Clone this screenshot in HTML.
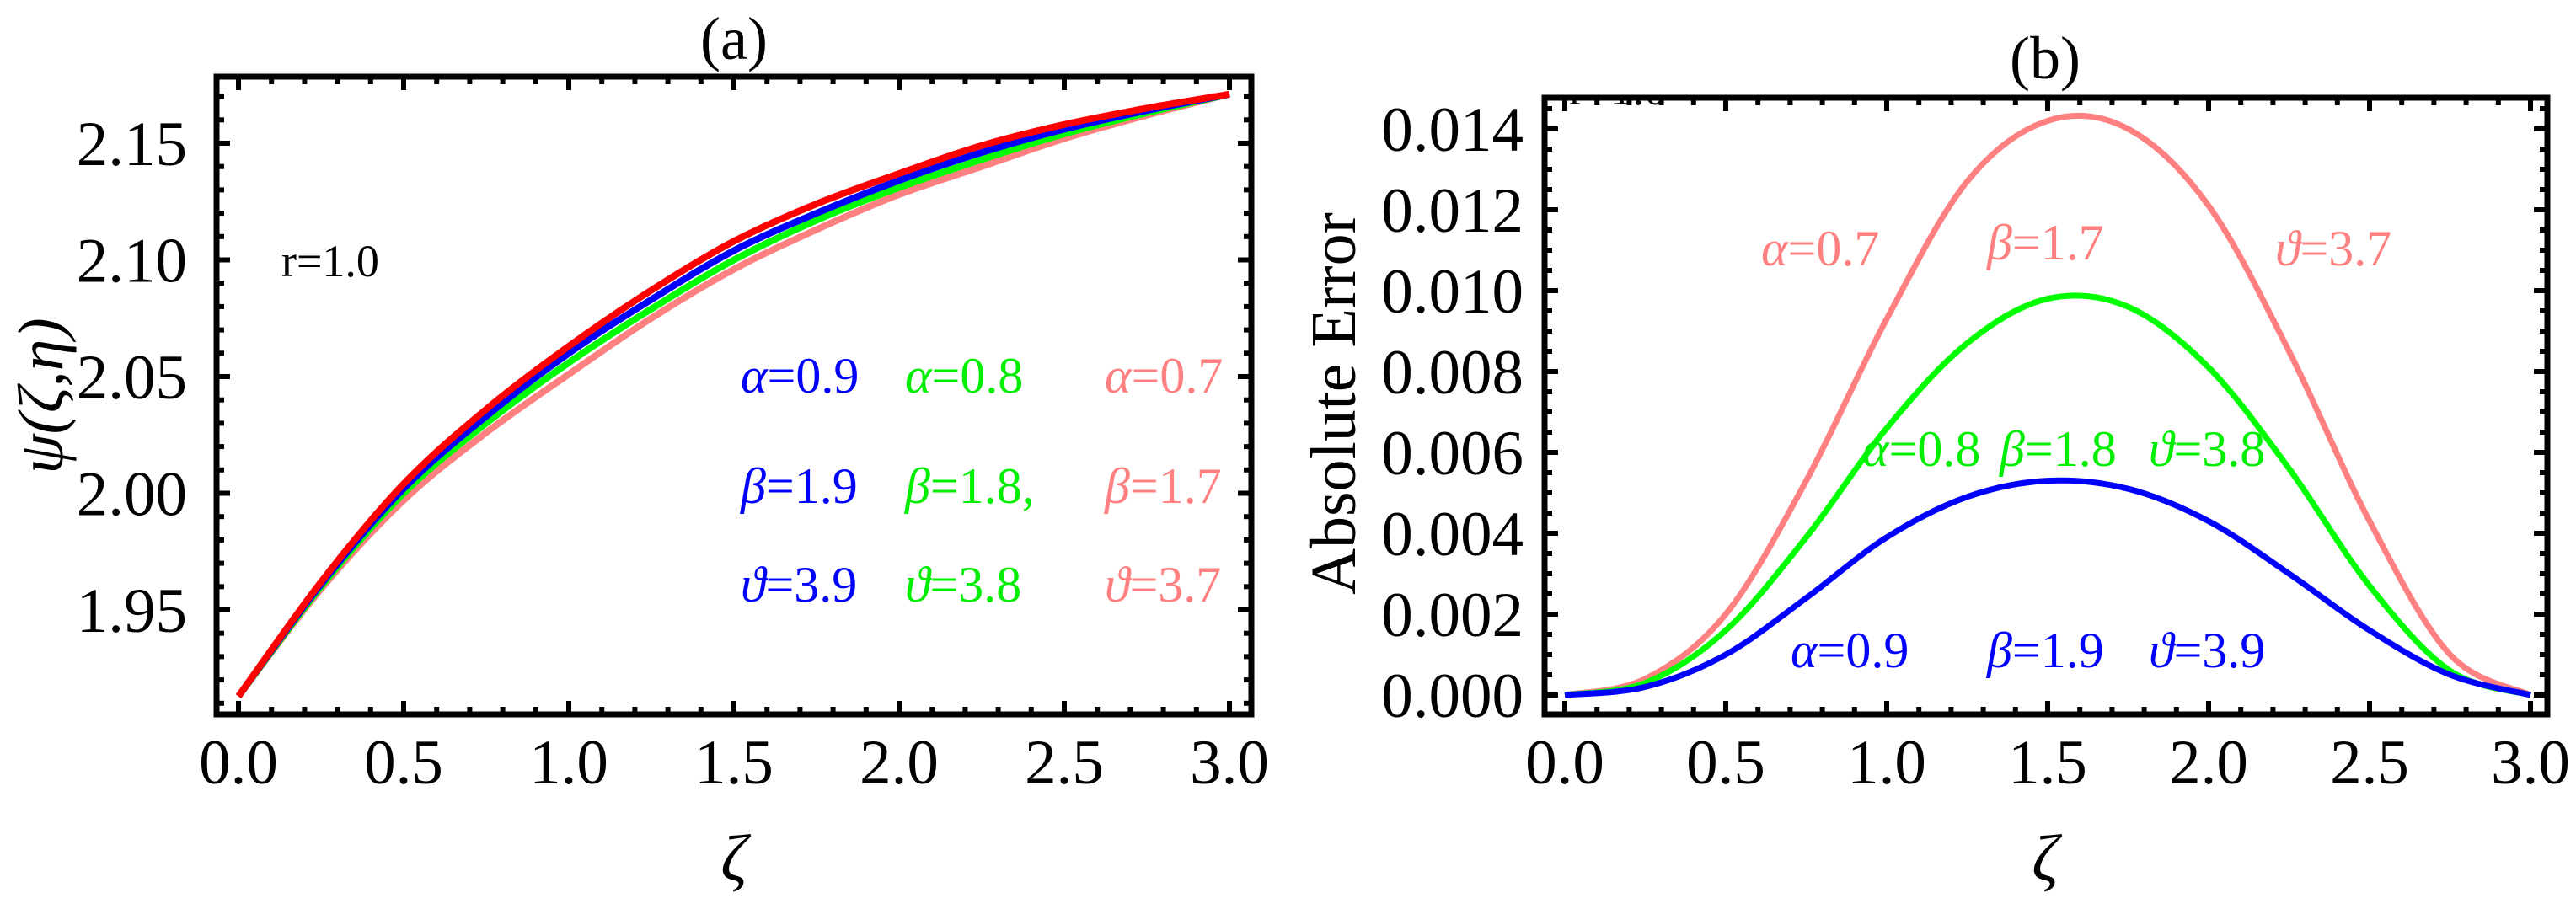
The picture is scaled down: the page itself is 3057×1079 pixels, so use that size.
<!DOCTYPE html>
<html><head><meta charset="utf-8"><style>
html,body{margin:0;padding:0;background:#fff;}
svg{display:block;font-family:"Liberation Serif","DejaVu Serif",serif;}
</style></head><body>
<svg id="fig" width="3057" height="1079" viewBox="0 0 3057 1079" xmlns="http://www.w3.org/2000/svg">
<defs>
<clipPath id="clipA"><rect x="257" y="88" width="1228" height="760"/></clipPath>
<clipPath id="clipB"><rect x="1833" y="116" width="1190" height="732"/></clipPath>
</defs>
<g id="panelA"></g>
<g id="panelB"></g>
</svg>
<script>
// ---- Data (panel a) ----
const xsA = [0,0.25,0.5,0.75,1.0,1.25,1.5,1.75,2.0,2.25,2.5,2.75,3.0];
const redA = [1.913,1.962,2.004,2.036,2.063,2.087,2.108,2.124,2.137,2.149,2.158,2.165,2.171];
const blueA = [1.913,1.961,2.002,2.033,2.060,2.083,2.104,2.120,2.134,2.146,2.156,2.164,2.171];
const greenA = [1.913,1.960,2.000,2.030,2.056,2.079,2.100,2.117,2.131,2.143,2.154,2.163,2.171];
const pinkA = [1.913,1.959,1.997,2.026,2.051,2.075,2.096,2.113,2.128,2.140,2.152,2.162,2.171];
const xTicks = [0,0.5,1.0,1.5,2.0,2.5,3.0];
const xTickLabels = ["0.0","0.5","1.0","1.5","2.0","2.5","3.0"];
const yTicksA = [1.95,2.00,2.05,2.10,2.15];
const yTickLabelsA = ["1.95","2.00","2.05","2.10","2.15"];
// ---- Data (panel b) ----
const xsB = [0,0.25,0.5,0.75,1.0,1.25,1.5,1.75,2.0,2.25,2.5,2.75,3.0];
const pinkB = [0,0.0004,0.0020,0.0053,0.0093,0.0127,0.0142,0.0140,0.0121,0.0085,0.0043,0.0010,0.0000];
const greenB = [0,0.0003,0.0016,0.0039,0.0066,0.0087,0.0098,0.0096,0.0081,0.0056,0.0027,0.0006,0.0000];
const blueB = [0,0.0002,0.0010,0.0024,0.0039,0.0049,0.0053,0.0051,0.0043,0.0030,0.0016,0.0005,0.0000];
const yTicksB = [0,0.002,0.004,0.006,0.008,0.010,0.012,0.014];
const yTickLabelsB = ["0.000","0.002","0.004","0.006","0.008","0.010","0.012","0.014"];

const NS="http://www.w3.org/2000/svg";
function mk(tag,attrs,parent){const e=document.createElementNS(NS,tag);for(const k in attrs)e.setAttribute(k,attrs[k]);parent.appendChild(e);return e;}

const AX={x0:283,xPer:392,yRef:2.15,yRefPx:170,yPer:138.5/0.05};
const xA=v=>AX.x0+v*AX.xPer;
const yA=v=>AX.yRefPx-(v-AX.yRef)*AX.yPer;
const BX={x0:1857,xPer:382,y0:825,yPer:96/0.002};
const xB=v=>BX.x0+v*BX.xPer;
const yB=v=>BX.y0-v*BX.yPer;

function smoothPath(xs,ys,fx,fy){
  const P=xs.map((x,i)=>[fx(x),fy(ys[i])]);
  let d="M"+P[0][0].toFixed(1)+","+P[0][1].toFixed(1);
  for(let i=0;i<P.length-1;i++){
    const p0=P[Math.max(0,i-1)],p1=P[i],p2=P[i+1],p3=P[Math.min(P.length-1,i+2)];
    const c1=[p1[0]+(p2[0]-p0[0])/6,p1[1]+(p2[1]-p0[1])/6];
    const c2=[p2[0]-(p3[0]-p1[0])/6,p2[1]-(p3[1]-p1[1])/6];
    d+=" C"+c1[0].toFixed(1)+","+c1[1].toFixed(1)+" "+c2[0].toFixed(1)+","+c2[1].toFixed(1)+" "+p2[0].toFixed(1)+","+p2[1].toFixed(1);
  }
  return d;
}

function frame(g,L,T,R,B,xf,yf,yMinorStep,yMin,yMax,yMajors){
  const fr=mk('rect',{x:L,y:T,width:R-L,height:B-T,fill:'none',stroke:'#000','stroke-width':7},g);
  
  
  for(let i=0;i<=30;i++){
    const v=i/10, x=xf(v), major=(i%5===0), len=major?16:9;
    const tb=mk('line',{x1:x,x2:x,y1:B,y2:B-len,stroke:'#000','stroke-width':6},g);
    
    
    const tt=mk('line',{x1:x,x2:x,y1:T,y2:T+len,stroke:'#000','stroke-width':6},g);
    
    
  }
  const n=Math.round((yMax-yMin)/yMinorStep);
  for(let i=0;i<=n;i++){
    const v=yMin+i*yMinorStep, y=yf(v);
    if(y<T+3||y>B-3)continue;
    const major=yMajors.some(m=>Math.abs(m-v)<yMinorStep/10), len=major?16:9;
    const tl=mk('line',{x1:L,x2:L+len,y1:y,y2:y,stroke:'#000','stroke-width':6},g);
    
    
    const tr=mk('line',{x1:R,x2:R-len,y1:y,y2:y,stroke:'#000','stroke-width':6},g);
    
    
  }
}
function txt(g,x,y,s,opts,name){
  const t=mk('text',Object.assign({x:x,y:y},opts||{}),g);
  t.innerHTML=s;
  
  
  return t;
}

// ---------- Panel A ----------
const gA=document.getElementById('panelA');
frame(gA,257,91,1485,848,xA,yA,0.01,1.90,2.18,yTicksA);
xTicks.forEach((v,i)=>txt(gA,xA(v),930,xTickLabels[i],{'font-size':75,'text-anchor':'middle'},'x-tick-label'));
yTicksA.forEach((v,i)=>txt(gA,222,yA(v)+26,yTickLabelsA[i],{'font-size':75,'text-anchor':'end'},'y-tick-label'));
txt(gA,871,70,'(a)',{'font-size':72,'text-anchor':'middle'},'panel-a-title');
txt(gA,871,1045,'ζ',{'font-size':78,'text-anchor':'middle','font-style':'italic'},'x-axis-title');
txt(gA,0,0,'ψ(ζ,η)',{'font-size':76,'text-anchor':'middle','font-style':'italic',transform:'translate(74,470) rotate(-90)'},'y-axis-title');
const cA=mk('g',{'clip-path':'url(#clipA)'},gA);
[[pinkA,'#ff8080','curve-alpha-0-7'],[greenA,'#00ff00','curve-alpha-0-8'],[blueA,'#0000ff','curve-alpha-0-9'],[redA,'#ff0000','curve-exact']].forEach(s=>{
  const p=mk('path',{d:smoothPath(xsA,s[0],xA,yA),fill:'none',stroke:s[1],'stroke-width':8,'stroke-linecap':'butt'},cA);
  
  
});
txt(gA,334,328,'r=1.0',{'font-size':54},'r-annotation');
const lblA=[['α=0.9','β=1.9','ϑ=3.9','#0000ff',879],['α=0.8','β=1.8,','ϑ=3.8','#00ee00',1074],['α=0.7','β=1.7','ϑ=3.7','#ff8080',1311]];
lblA.forEach(c=>{
  [466,597,714].forEach((y,j)=>{
    const s=c[j];
    txt(gA,c[4],y,'<tspan font-style="italic">'+s[0]+'</tspan>'+s.slice(1),{'font-size':60,fill:c[3]},'param-label');
  });
});

// ---------- Panel B ----------
const gB=document.getElementById('panelB');
frame(gB,1833,116,3023,848,xB,yB,0.0005,-0.0005,0.015,yTicksB);
xTicks.forEach((v,i)=>txt(gB,xB(v),930,xTickLabels[i],{'font-size':75,'text-anchor':'middle'},'x-tick-label'));
yTicksB.forEach((v,i)=>txt(gB,1808,yB(v)+26,yTickLabelsB[i],{'font-size':75,'text-anchor':'end'},'y-tick-label'));
txt(gB,2427,93,'(b)',{'font-size':72,'text-anchor':'middle'},'panel-b-title');
txt(gB,2427,1045,'ζ',{'font-size':78,'text-anchor':'middle','font-style':'italic'},'x-axis-title');
txt(gB,0,0,'Absolute Error',{'font-size':76,'text-anchor':'middle',transform:'translate(1608,479) rotate(-90)'},'y-axis-title');
const cB=mk('g',{'clip-path':'url(#clipB)'},gB);
txt(cB,1862,124,'r=1.0',{'font-size':54},'r-annotation-clipped');
[[pinkB,'#ff8080','error-alpha-0-7'],[greenB,'#00ff00','error-alpha-0-8'],[blueB,'#0000ff','error-alpha-0-9']].forEach(s=>{
  const p=mk('path',{d:smoothPath(xsB,s[0],xB,yB),fill:'none',stroke:s[1],'stroke-width':7},cB);
  
  
});
const lblB=[
 ['α=0.7',2090,315,'#ff8080'],['β=1.7',2358,308,'#ff8080'],['ϑ=3.7',2700,315,'#ff8080'],
 ['α=0.8',2210,553,'#00ee00'],['β=1.8',2373,553,'#00ee00'],['ϑ=3.8',2550,553,'#00ee00'],
 ['α=0.9',2125,792,'#0000ff'],['β=1.9',2358,792,'#0000ff'],['ϑ=3.9',2550,792,'#0000ff']];
lblB.forEach(l=>txt(gB,l[1],l[2],'<tspan font-style="italic">'+l[0][0]+'</tspan>'+l[0].slice(1),{'font-size':60,fill:l[3]},'param-label'));
</script>
</body></html>
